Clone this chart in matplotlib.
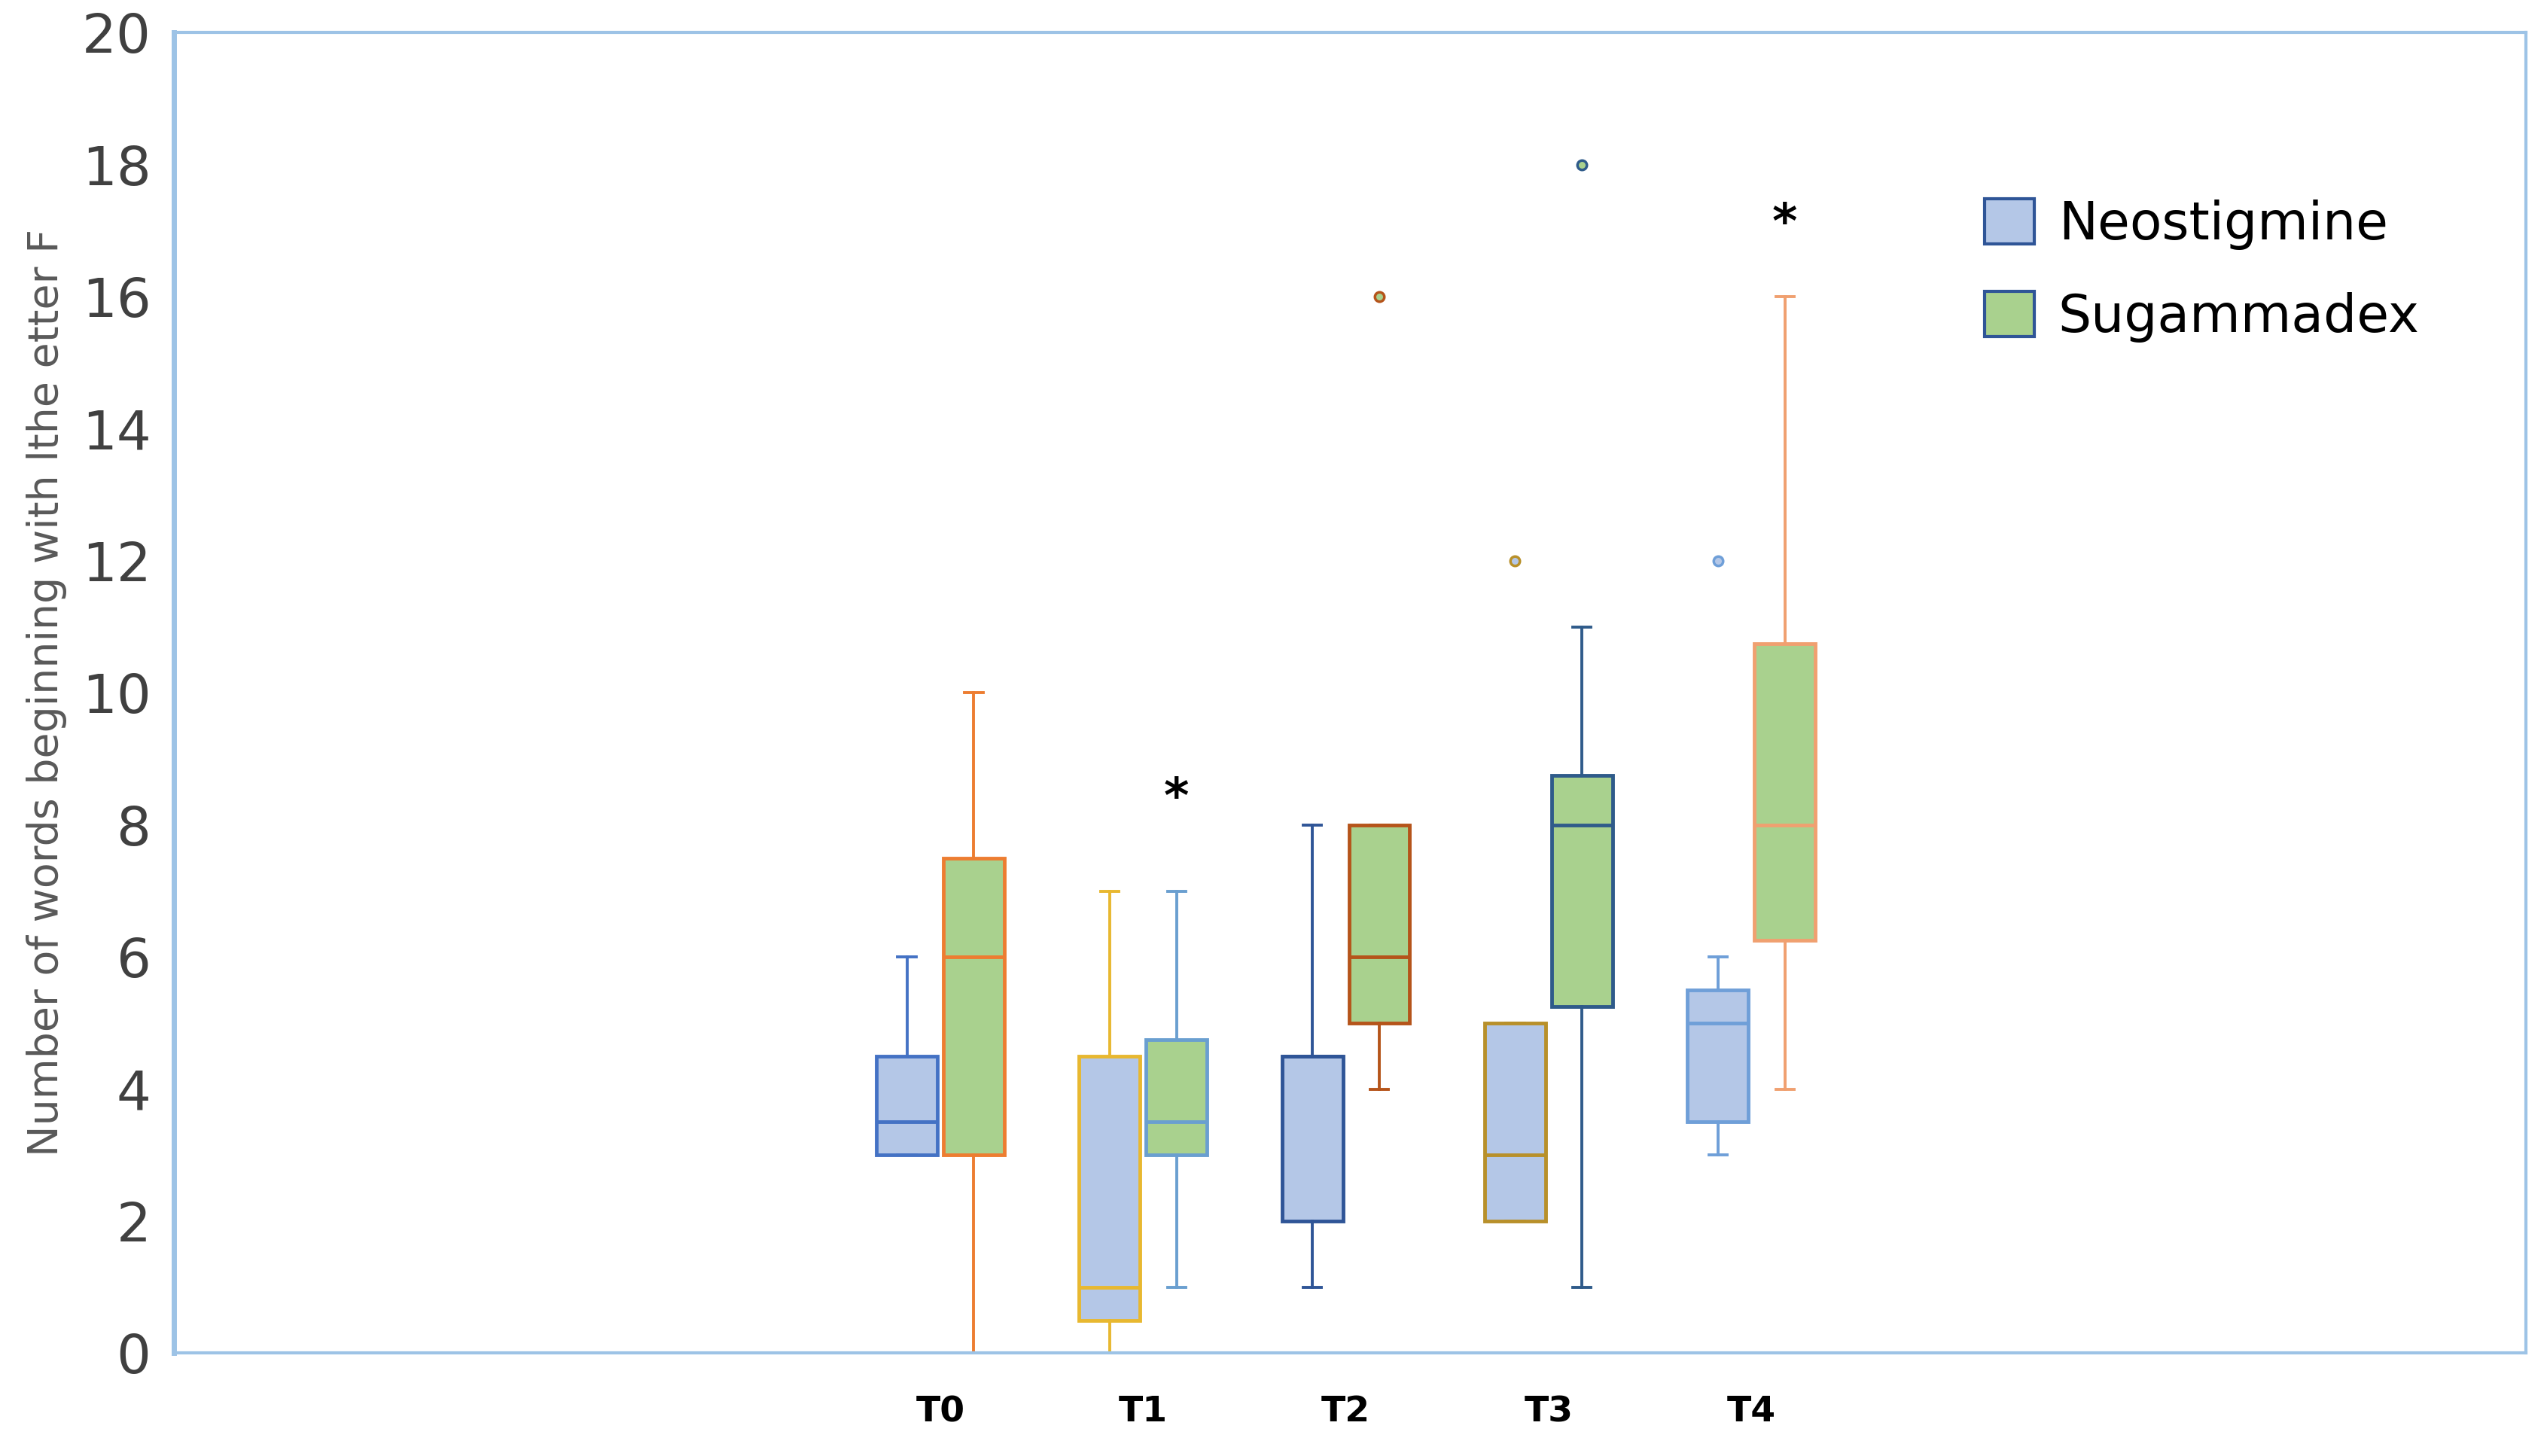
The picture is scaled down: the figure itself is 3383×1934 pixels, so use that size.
import numpy as np
import matplotlib.pyplot as plt
from matplotlib.patches import Patch

times = ["T0", "T1", "T2", "T3", "T4"]

# Neostigmine box stats
neo_q1 = [3, 0.5, 2, 2, 3.5]
neo_med = [3.5, 1, 4.5, 3, 5]
neo_q3 = [4.5, 4.5, 4.5, 5, 5.5]
neo_lo = [3, 0, 1, 2, 3]
neo_hi = [6, 7, 8, 5, 6]
neo_out = [[], [], [], [12], [12]]

# Sugammadex box stats
sug_q1 = [3, 3, 5, 5.25, 6.25]
sug_med = [6, 3.5, 6, 8, 8]
sug_q3 = [7.5, 4.75, 8, 8.75, 10.75]
sug_lo = [0, 1, 4, 1, 4]
sug_hi = [10, 7, 8, 11, 16]
sug_out = [[], [], [16], [18], []]

neo_edges = ["#4472c4", "#e8b830", "#2f5597", "#b8902a", "#6f9fd8"]
sug_edges = ["#ed7d31", "#6a9fd0", "#b5541a", "#2f5b8a", "#f0a070"]
neo_fill = "#b4c7e7"
sug_fill = "#a9d18e"

star_x = [1, 4]
star_y = [8.4, 17.1]

fig = plt.figure(figsize=(33.83, 19.34), dpi=100)
ax = fig.add_axes([0.0683, 0.0706, 0.9234, 0.907])

pos = np.arange(len(times))
off = 0.165
w = 0.3


def stats(q1, med, q3, lo, hi, out):
    res = []
    for i in range(len(q1)):
        res.append({"q1": q1[i], "med": med[i], "q3": q3[i],
                    "whislo": lo[i], "whishi": hi[i], "fliers": out[i]})
    return res


def draw(st, x, edges, fill):
    for i, s in enumerate(st):
        ec = edges[i]
        ax.bxp([s], positions=[x[i]], widths=w, patch_artist=True,
               capwidths=0.09, manage_ticks=False,
               boxprops=dict(facecolor=fill, edgecolor=ec, linewidth=3.5),
               medianprops=dict(color=ec, linewidth=3.5),
               whiskerprops=dict(color=ec, linewidth=2.8),
               capprops=dict(color=ec, linewidth=2.8),
               flierprops=dict(marker="o", markersize=9, markeredgewidth=2.5,
                               markeredgecolor=ec, markerfacecolor=fill))


draw(stats(neo_q1, neo_med, neo_q3, neo_lo, neo_hi, neo_out), pos - off, neo_edges, neo_fill)
draw(stats(sug_q1, sug_med, sug_q3, sug_lo, sug_hi, sug_out), pos + off, sug_edges, sug_fill)

for sx, sy in zip(star_x, star_y):
    ax.text(sx + off, sy, "*", ha="center", va="center", fontsize=46,
            fontweight="bold", color="black")

ax.set_xlim(-3.78, 7.82)
ax.set_ylim(0, 20)
ax.set_yticks(range(0, 21, 2))
ax.set_xticks(pos)
ax.set_xticklabels(times, fontsize=34, fontweight="bold")
ax.tick_params(axis="y", labelsize=52, labelcolor="#404040", length=0, pad=22)
ax.tick_params(axis="x", length=0, pad=40)

for sp in ax.spines.values():
    sp.set_color("#9dc3e6")
    sp.set_linewidth(3)
ax.spines["left"].set_linewidth(5)

ax.set_ylabel("Number of words beginning with lthe etter F", fontsize=40,
              color="#595959", labelpad=14)

handles = [Patch(facecolor=neo_fill, edgecolor="#2f5597", linewidth=3, label="Neostigmine"),
           Patch(facecolor=sug_fill, edgecolor="#2f5597", linewidth=3, label="Sugammadex")]
ax.legend(handles=handles, loc="upper left", bbox_to_anchor=(0.75, 0.91),
          frameon=False, fontsize=50, handlelength=0.95, handleheight=0.95,
          handletextpad=0.45, labelspacing=0.8)

fig.savefig("out.png", dpi=100)
